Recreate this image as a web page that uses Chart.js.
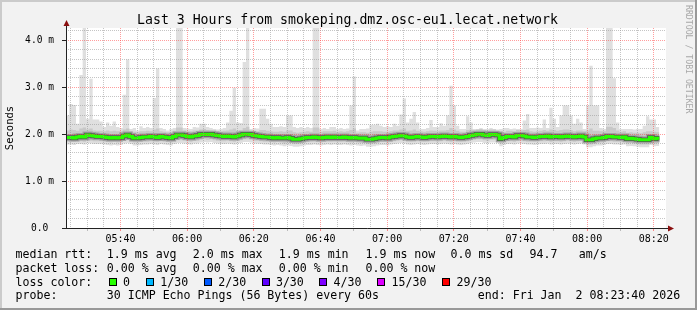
<!DOCTYPE html>
<html>
<head>
<meta charset="utf-8">
<script src="https://cdn.jsdelivr.net/npm/chart.js@4.4.1/dist/chart.umd.min.js"></script>
<style>
  html, body { margin: 0; padding: 0; background: #f2f2f2; }
  canvas { display: block; }
</style>
</head>
<body>
<canvas id="smokeChart" width="697" height="310"></canvas>
<script>
/* SmokePing latency graph - last 3 hours, one value per minute */

const startClock = '05:23:40';
const spanMinutes = 180;
const xTickLabels = ['05:40', '06:00', '06:20', '06:40', '07:00', '07:20', '07:40', '08:00', '08:20'];
const yTickLabels = ['0.0 ', '1.0 m', '2.0 m', '3.0 m', '4.0 m'];

// median rtt (ms)
const medianRtt = [
  1.93, 1.93, 1.92, 1.94, 1.95, 1.94, 1.98, 1.97, 1.96, 1.95,
  1.95, 1.94, 1.93, 1.92, 1.93, 1.92, 1.93, 1.96, 1.98, 1.95,
  1.92, 1.92, 1.93, 1.94, 1.94, 1.95, 1.94, 1.93, 1.95, 1.94,
  1.93, 1.92, 1.95, 1.98, 1.98, 1.97, 1.95, 1.94, 1.96, 1.97,
  1.99, 2.00, 1.99, 2.00, 1.98, 1.97, 1.96, 1.95, 1.96, 1.95,
  1.94, 1.96, 1.98, 2.00, 2.00, 1.99, 1.97, 1.96, 1.95, 1.94,
  1.94, 1.93, 1.92, 1.93, 1.92, 1.92, 1.93, 1.91, 1.89, 1.89,
  1.90, 1.92, 1.93, 1.93, 1.94, 1.93, 1.92, 1.93, 1.94, 1.93,
  1.94, 1.93, 1.93, 1.94, 1.93, 1.92, 1.93, 1.92, 1.91, 1.92,
  1.89, 1.89, 1.90, 1.92, 1.93, 1.93, 1.92, 1.94, 1.95, 1.96,
  1.97, 1.96, 1.94, 1.93, 1.94, 1.95, 1.94, 1.93, 1.94, 1.95,
  1.95, 1.94, 1.95, 1.96, 1.95, 1.94, 1.95, 1.94, 1.93, 1.94,
  1.95, 1.97, 1.98, 2.00, 2.00, 1.98, 1.97, 1.99, 1.99, 1.98,
  1.90, 1.93, 1.95, 1.95, 1.94, 1.97, 1.97, 1.96, 1.94, 1.94,
  1.93, 1.94, 1.95, 1.95, 1.96, 1.94, 1.95, 1.95, 1.94, 1.95,
  1.96, 1.95, 1.94, 1.95, 1.96, 1.94, 1.88, 1.88, 1.90, 1.92,
  1.92, 1.93, 1.95, 1.95, 1.94, 1.94, 1.93, 1.94, 1.90, 1.91,
  1.90, 1.89, 1.88, 1.88, 1.88, 1.93, 1.90, 1.91
];

// slowest ping of each round (top of the smoke)
const pingMax = [
  2.40, 2.64, 2.62, 2.22, 3.26, 4.40, 2.33, 3.18, 2.31, 2.31,
  2.27, 2.15, 2.25, 2.18, 2.27, 2.15, 2.13, 2.84, 3.59, 2.11,
  2.13, 2.08, 2.17, 2.13, 2.15, 2.13, 2.77, 3.40, 2.13, 2.11,
  2.08, 2.11, 2.13, 4.40, 4.40, 2.13, 2.12, 2.11, 2.15, 2.14,
  2.22, 2.22, 2.15, 2.13, 2.11, 2.10, 2.11, 2.13, 2.25, 2.50,
  2.99, 2.25, 2.24, 3.54, 4.40, 2.11, 2.13, 2.12, 2.54, 2.54,
  2.33, 2.22, 2.15, 2.15, 2.17, 2.15, 2.40, 2.40, 2.15, 2.13,
  2.15, 2.13, 2.15, 2.13, 4.40, 4.40, 2.11, 2.13, 2.11, 2.15,
  2.15, 2.11, 2.13, 2.11, 2.12, 2.61, 3.23, 2.08, 2.11, 2.11,
  2.12, 2.20, 2.20, 2.22, 2.18, 2.15, 2.17, 2.15, 2.22, 2.18,
  2.42, 2.76, 2.25, 2.33, 2.47, 2.25, 2.11, 2.11, 2.13, 2.30,
  2.15, 2.15, 2.23, 2.18, 2.40, 3.03, 2.61, 2.18, 2.11, 2.11,
  2.38, 2.25, 2.11, 2.11, 2.13, 2.11, 2.11, 2.13, 2.11, 2.10,
  2.11, 2.13, 2.13, 2.11, 2.12, 2.11, 2.11, 2.29, 2.43, 2.13,
  2.13, 2.14, 2.13, 2.31, 2.13, 2.56, 2.33, 2.15, 2.40, 2.61,
  2.61, 2.40, 2.22, 2.33, 2.25, 2.11, 2.61, 3.46, 2.61, 2.61,
  2.13, 2.11, 4.40, 4.40, 3.19, 2.25, 2.11, 2.11, 2.11, 2.11,
  2.10, 2.11, 2.11, 2.18, 2.38, 2.31, 2.31, 2.15
];

// dense part of the smoke, upper edge
const smokeHigh = [
  2.08, 2.10, 2.09, 2.07, 2.12, 2.14, 2.10, 2.12, 2.08, 2.07,
  2.07, 2.06, 2.08, 2.06, 2.07, 2.06, 2.06, 2.10, 2.12, 2.06,
  2.05, 2.04, 2.06, 2.06, 2.07, 2.06, 2.10, 2.12, 2.06, 2.05,
  2.04, 2.05, 2.07, 2.14, 2.14, 2.08, 2.06, 2.06, 2.08, 2.08,
  2.10, 2.11, 2.09, 2.08, 2.07, 2.06, 2.06, 2.07, 2.08, 2.10,
  2.12, 2.08, 2.08, 2.13, 2.16, 2.06, 2.07, 2.06, 2.09, 2.09,
  2.07, 2.06, 2.05, 2.05, 2.06, 2.05, 2.08, 2.08, 2.04, 2.03,
  2.04, 2.05, 2.06, 2.05, 2.14, 2.14, 2.05, 2.06, 2.06, 2.06,
  2.07, 2.05, 2.06, 2.05, 2.06, 2.09, 2.12, 2.03, 2.04, 2.04,
  2.03, 2.05, 2.06, 2.06, 2.06, 2.05, 2.05, 2.06, 2.08, 2.08,
  2.10, 2.12, 2.07, 2.08, 2.10, 2.07, 2.06, 2.05, 2.06, 2.08,
  2.07, 2.06, 2.08, 2.08, 2.09, 2.13, 2.10, 2.07, 2.05, 2.05,
  2.09, 2.10, 2.08, 2.10, 2.11, 2.09, 2.08, 2.10, 2.10, 2.08,
  2.03, 2.05, 2.07, 2.07, 2.06, 2.09, 2.08, 2.09, 2.10, 2.06,
  2.05, 2.06, 2.07, 2.09, 2.07, 2.10, 2.09, 2.07, 2.09, 2.10,
  2.10, 2.09, 2.06, 2.08, 2.08, 2.06, 2.08, 2.12, 2.07, 2.07,
  2.06, 2.06, 2.16, 2.16, 2.13, 2.08, 2.05, 2.06, 2.03, 2.04,
  2.03, 2.03, 2.02, 2.04, 2.06, 2.06, 2.05, 2.04
];

// dense part of the smoke, lower edge
const smokeLow = [
  1.84, 1.84, 1.83, 1.85, 1.85, 1.84, 1.87, 1.86, 1.85, 1.85,
  1.85, 1.84, 1.83, 1.82, 1.83, 1.82, 1.83, 1.86, 1.87, 1.85,
  1.82, 1.82, 1.83, 1.84, 1.84, 1.85, 1.84, 1.83, 1.85, 1.84,
  1.83, 1.82, 1.85, 1.87, 1.87, 1.86, 1.85, 1.84, 1.86, 1.86,
  1.88, 1.89, 1.88, 1.89, 1.87, 1.86, 1.85, 1.85, 1.86, 1.85,
  1.84, 1.86, 1.87, 1.89, 1.89, 1.88, 1.86, 1.86, 1.85, 1.84,
  1.84, 1.83, 1.82, 1.83, 1.82, 1.80, 1.82, 1.81, 1.79, 1.79,
  1.80, 1.82, 1.83, 1.83, 1.84, 1.83, 1.82, 1.83, 1.84, 1.83,
  1.84, 1.83, 1.83, 1.84, 1.83, 1.82, 1.83, 1.82, 1.81, 1.82,
  1.79, 1.79, 1.80, 1.82, 1.83, 1.83, 1.82, 1.84, 1.85, 1.86,
  1.87, 1.86, 1.84, 1.83, 1.84, 1.85, 1.84, 1.83, 1.84, 1.85,
  1.85, 1.84, 1.85, 1.86, 1.85, 1.84, 1.85, 1.84, 1.83, 1.84,
  1.85, 1.87, 1.88, 1.89, 1.89, 1.87, 1.86, 1.88, 1.88, 1.87,
  1.80, 1.83, 1.85, 1.85, 1.84, 1.86, 1.86, 1.85, 1.84, 1.84,
  1.83, 1.84, 1.85, 1.85, 1.86, 1.84, 1.85, 1.85, 1.84, 1.85,
  1.86, 1.85, 1.84, 1.85, 1.86, 1.84, 1.78, 1.78, 1.80, 1.82,
  1.82, 1.83, 1.85, 1.85, 1.84, 1.84, 1.83, 1.84, 1.80, 1.81,
  1.80, 1.79, 1.78, 1.78, 1.78, 1.83, 1.80, 1.81
];

// fastest ping of each round (bottom of the smoke)
const pingMin = [
  1.78, 1.78, 1.77, 1.79, 1.79, 1.78, 1.81, 1.80, 1.79, 1.79,
  1.79, 1.78, 1.77, 1.76, 1.77, 1.76, 1.77, 1.80, 1.81, 1.79,
  1.76, 1.76, 1.77, 1.78, 1.78, 1.79, 1.78, 1.77, 1.79, 1.78,
  1.77, 1.76, 1.79, 1.81, 1.81, 1.80, 1.79, 1.78, 1.80, 1.80,
  1.82, 1.83, 1.82, 1.83, 1.81, 1.80, 1.79, 1.79, 1.80, 1.79,
  1.78, 1.80, 1.81, 1.83, 1.83, 1.82, 1.80, 1.80, 1.79, 1.78,
  1.78, 1.77, 1.76, 1.77, 1.76, 1.74, 1.76, 1.75, 1.73, 1.73,
  1.74, 1.76, 1.77, 1.77, 1.78, 1.77, 1.76, 1.77, 1.78, 1.77,
  1.78, 1.77, 1.77, 1.78, 1.77, 1.76, 1.77, 1.76, 1.75, 1.76,
  1.73, 1.73, 1.74, 1.76, 1.77, 1.77, 1.76, 1.78, 1.79, 1.80,
  1.81, 1.80, 1.78, 1.77, 1.78, 1.79, 1.78, 1.77, 1.78, 1.79,
  1.79, 1.78, 1.79, 1.80, 1.79, 1.78, 1.79, 1.78, 1.77, 1.78,
  1.79, 1.81, 1.82, 1.83, 1.83, 1.81, 1.80, 1.82, 1.82, 1.81,
  1.74, 1.77, 1.79, 1.79, 1.78, 1.80, 1.80, 1.79, 1.78, 1.78,
  1.77, 1.78, 1.79, 1.79, 1.80, 1.78, 1.79, 1.79, 1.78, 1.79,
  1.80, 1.79, 1.78, 1.79, 1.80, 1.78, 1.72, 1.72, 1.74, 1.76,
  1.76, 1.77, 1.79, 1.79, 1.78, 1.78, 1.77, 1.78, 1.74, 1.75,
  1.74, 1.73, 1.72, 1.72, 1.72, 1.77, 1.74, 1.75
];

const lossLabels = ['0', '1/30', '2/30', '3/30', '4/30', '15/30', '29/30'];
const lossColors = ['#26ff00', '#00b8ff', '#0059ff', '#5e00ff', '#7e00ff', '#dd00ff', '#ff0000'];
const rttStats = ['1.9 ms avg', '2.0 ms max', '1.9 ms min', '1.9 ms now', '0.0 ms sd', '94.7', 'am/s'];
const lossStats = ['0.00 % avg', '0.00 % max', '0.00 % min', '0.00 % now'];
const titleText = 'Last 3 Hours from smokeping.dmz.osc-eu1.lecat.network';
const probeText = '30 ICMP Echo Pings (56 Bytes) every 60s';
const endText = 'end: Fri Jan  2 08:23:40 2026';

const MONO = '"DejaVu Sans Mono", "Liberation Mono", monospace';
const yTop = 4.262;

function clockToMin(s) {
  const p = s.split(':').map(Number);
  return p[0] * 60 + p[1] + (p[2] || 0) / 60;
}
const startMin = clockToMin(startClock);

// every minute value becomes a flat step from i to i+1
function toSteps(values) {
  const pts = [];
  values.forEach((v, i) => {
    pts.push({ x: i, y: v }, { x: i + 1, y: v });
  });
  return pts;
}

function minuteOf(value) {
  return Math.round(value + startMin);
}
function clockLabel(m) {
  const hh = String(Math.floor(m / 60)).padStart(2, '0');
  const mm = String(m % 60).padStart(2, '0');
  return hh + ':' + mm;
}

const flat = { pointRadius: 0, tension: 0, borderJoinStyle: 'miter', borderCapStyle: 'butt' };

// Background, canvas, axes arrows and legend texts
const rrdFrame = {
  id: 'rrdFrame',
  beforeDraw(chart) {
    const { ctx, chartArea: a } = chart;
    ctx.save();
    ctx.fillStyle = '#f2f2f2';
    ctx.fillRect(0, 0, chart.width, chart.height);
    ctx.fillStyle = '#cbcbcb';
    ctx.fillRect(0, 0, chart.width, 2);
    ctx.fillRect(0, 0, 2, chart.height);
    ctx.fillStyle = '#999999';
    ctx.fillRect(0, chart.height - 2, chart.width, 2);
    ctx.fillRect(chart.width - 2, 0, 2, chart.height);
    ctx.fillStyle = '#ffffff';
    ctx.fillRect(a.left, a.top, a.right - a.left, a.bottom - a.top);
    ctx.restore();
  },
  afterDraw(chart) {
    const { ctx, chartArea: a } = chart;
    const x0 = Math.round(a.left) + 0.5;
    const y0 = Math.round(a.bottom) + 0.5;
    ctx.save();

    // axis lines
    ctx.strokeStyle = '#222';
    ctx.lineWidth = 1;
    ctx.beginPath();
    ctx.moveTo(x0, y0);
    ctx.lineTo(x0, a.top - 3);
    ctx.moveTo(x0 - 3, y0);
    ctx.lineTo(a.right + 5, y0);
    ctx.stroke();

    // arrows
    ctx.fillStyle = '#8b1010';
    ctx.beginPath();
    ctx.moveTo(x0, a.top - 8);
    ctx.lineTo(x0 - 3, a.top - 2);
    ctx.lineTo(x0 + 3, a.top - 2);
    ctx.closePath();
    ctx.fill();
    ctx.beginPath();
    ctx.moveTo(a.right + 8, y0);
    ctx.lineTo(a.right + 2, y0 - 3);
    ctx.lineTo(a.right + 2, y0 + 3);
    ctx.closePath();
    ctx.fill();

    // title
    ctx.fillStyle = '#000';
    ctx.font = '13.2px ' + MONO;
    ctx.textAlign = 'center';
    ctx.textBaseline = 'alphabetic';
    ctx.fillText(titleText, 347.5, 24);

    // watermark
    ctx.save();
    ctx.translate(688.3, 5);
    ctx.rotate(Math.PI / 2);
    ctx.font = '8.2px ' + MONO;
    ctx.fillStyle = '#a8a8a8';
    ctx.textAlign = 'left';
    ctx.textBaseline = 'middle';
    ctx.fillText('RRDTOOL / TOBI OETIKER', 0, 0);
    ctx.restore();

    // legend
    ctx.font = '11.6px ' + MONO;
    ctx.textAlign = 'left';
    ctx.fillStyle = '#000';
    const rowY = [258, 271.7, 285.5, 299.3];
    const statX = [106.8, 192.8, 278.8, 365.5, 450.5, 529.5, 578.8];
    ctx.fillText('median rtt:', 15.5, rowY[0]);
    rttStats.forEach((t, i) => ctx.fillText(t, statX[i], rowY[0]));
    ctx.fillText('packet loss:', 15.5, rowY[1]);
    lossStats.forEach((t, i) => ctx.fillText(t, statX[i], rowY[1]));
    ctx.fillText('loss color:', 15.5, rowY[2]);
    const boxX = [108.7, 146, 204, 261.7, 319.3, 377.3, 442.3];
    lossLabels.forEach((t, i) => {
      const bx = Math.round(boxX[i]);
      ctx.fillStyle = lossColors[i];
      ctx.fillRect(bx, 278, 8, 8);
      ctx.strokeStyle = '#000';
      ctx.strokeRect(bx + 0.5, 278.5, 7, 7);
      ctx.fillStyle = '#000';
      ctx.fillText(t, boxX[i] + 14.2, rowY[2]);
    });
    ctx.fillText('probe:', 15.5, rowY[3]);
    ctx.fillText(probeText, 106.8, rowY[3]);
    ctx.fillText(endText, 477.8, rowY[3]);
    ctx.restore();
  }
};

const ctx = document.getElementById('smokeChart').getContext('2d');

new Chart(ctx, {
  type: 'line',
  data: {
    datasets: [
      { ...flat, label: 'median', data: toSteps(medianRtt), borderColor: '#26ff00', borderWidth: 3, fill: false },
      { ...flat, label: 'core', data: toSteps(medianRtt), borderColor: '#555555', borderWidth: 4.5, fill: false },
      { ...flat, label: 'near', data: toSteps(medianRtt), borderColor: '#a2a2a2', borderWidth: 7, fill: false },
      { ...flat, label: 'smoke high', data: toSteps(smokeHigh), borderWidth: 0, borderColor: 'transparent',
        backgroundColor: '#c8c8c8', fill: '+1' },
      { ...flat, label: 'smoke low', data: toSteps(smokeLow), borderWidth: 0, borderColor: 'transparent', fill: false },
      { ...flat, label: 'max', data: toSteps(pingMax), borderWidth: 0, borderColor: 'transparent',
        backgroundColor: '#dfdfdf', fill: '+1' },
      { ...flat, label: 'min', data: toSteps(pingMin), borderWidth: 0, borderColor: 'transparent', fill: false }
    ]
  },
  options: {
    responsive: false,
    animation: false,
    events: [],
    layout: { padding: { left: 0, top: 28, right: 31, bottom: 0 } },
    plugins: {
      legend: { display: false },
      tooltip: { enabled: false },
      title: { display: false }
    },
    scales: {
      x: {
        type: 'linear',
        min: 0,
        max: spanMinutes,
        afterFit(scale) { scale.height = 82; },
        afterBuildTicks(scale) {
          const ticks = [];
          for (let m = Math.ceil(startMin / 5) * 5; m <= startMin + spanMinutes; m += 5) {
            ticks.push({ value: m - startMin });
          }
          scale.ticks = ticks;
        },
        border: { display: false, dash: [1, 1] },
        grid: {
          z: 1,
          lineWidth: 1,
          tickLength: 3,
          tickBorderDash: [],
          color(c) {
            return minuteOf(c.tick.value) % 20 === 0 ? 'rgba(255, 60, 60, 0.5)' : 'rgba(150, 150, 150, 0.55)';
          },
          tickColor(c) {
            const m = minuteOf(c.tick.value);
            if (m % 20 === 0) return 'rgba(255, 60, 60, 0.6)';
            if (m % 10 === 0) return 'rgba(150, 150, 150, 0.6)';
            return 'transparent';
          }
        },
        ticks: {
          autoSkip: false,
          maxRotation: 0,
          padding: 2,
          color: '#000',
          font: { family: MONO, size: 10 },
          callback(value) {
            const lbl = clockLabel(minuteOf(value));
            return xTickLabels.includes(lbl) ? lbl : '';
          }
        }
      },
      y: {
        type: 'linear',
        min: 0,
        max: yTop,
        afterFit(scale) { scale.width = 66; },
        afterBuildTicks(scale) {
          const ticks = [];
          for (let k = 0; k <= Math.floor(yTop * 5); k++) ticks.push({ value: k / 5 });
          scale.ticks = ticks;
        },
        border: { display: false, dash: [1, 1] },
        grid: {
          z: 1,
          lineWidth: 1,
          tickLength: 4,
          tickBorderDash: [],
          color(c) {
            return Math.abs(c.tick.value - Math.round(c.tick.value)) < 1e-6 ? 'rgba(255, 60, 60, 0.5)' : 'rgba(150, 150, 150, 0.55)';
          },
          tickColor(c) {
            return Math.abs(c.tick.value - Math.round(c.tick.value)) < 1e-6 ? '#222' : 'transparent';
          }
        },
        title: {
          display: true,
          text: 'Seconds',
          color: '#000',
          padding: { top: 4, bottom: 0 },
          font: { family: MONO, size: 10.5 }
        },
        ticks: {
          autoSkip: false,
          padding: 8,
          color: '#000',
          font: { family: MONO, size: 9.6 },
          callback(value) {
            const k = Math.round(value);
            return Math.abs(value - k) < 1e-6 ? yTickLabels[k] : '';
          }
        }
      }
    }
  },
  plugins: [rrdFrame]
});
</script>
</body>
</html>
